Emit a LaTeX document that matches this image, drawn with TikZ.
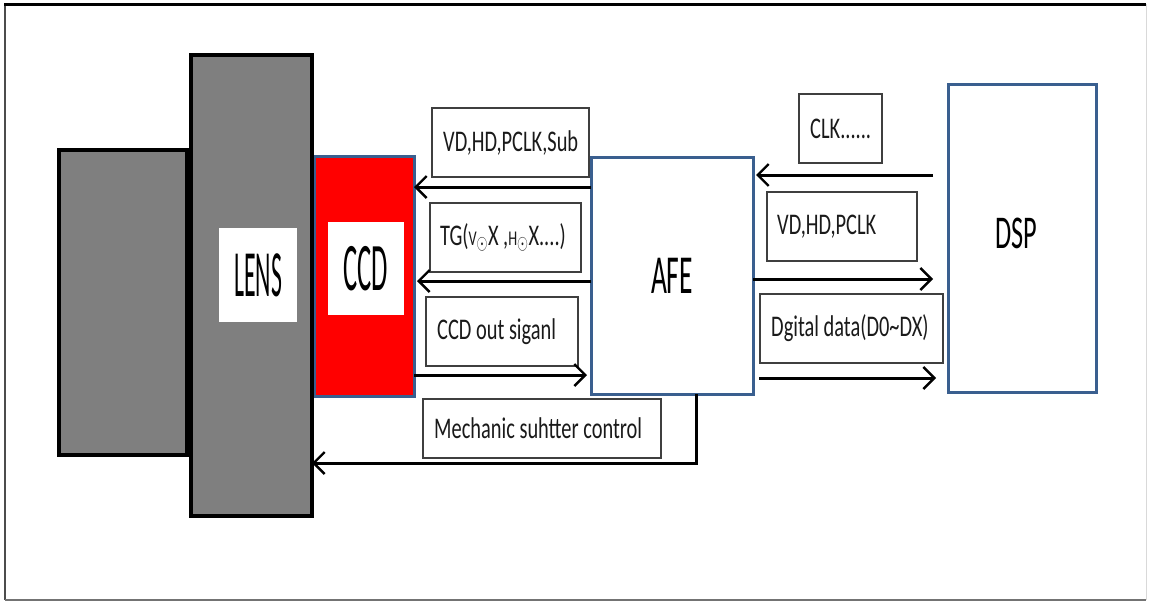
\documentclass[tikz,border=0pt]{standalone}
\usepackage{fontspec}
\usepackage{graphicx}
\setmainfont{Carlito}
\usetikzlibrary{arrows.meta}
\definecolor{housingGray}{HTML}{7F7F7F}
\definecolor{sensorRed}{HTML}{FF0000}
\definecolor{chipBlue}{HTML}{3A5F8F}
\definecolor{tagGray}{HTML}{3F3F3F}
\definecolor{textGray}{HTML}{1A1A1A}
\newcommand{\narrowtext}[3]{\scalebox{#1}[1]{\fontsize{#2}{#2}\selectfont #3}}

\begin{document}
\begin{tikzpicture}[
  x=1pt, y=-1pt,
  box/.style={rectangle, inner sep=0pt, outer sep=0pt, anchor=north west},
  housing/.style={box, draw=black, line width=4pt, fill=housingGray},
  sensor/.style={box, draw=chipBlue, line width=3pt, fill=sensorRed},
  chip/.style={box, draw=chipBlue, line width=3pt, fill=white},
  plate/.style={box, fill=white},
  tag/.style={box, draw=tagGray, line width=1.3pt, fill=white},
  tagtext/.style={anchor=west, inner sep=0pt, text=textGray},
  sig/.style={-{Straight Barb[length=11pt, width=22pt, line width=2.4pt]}, line width=3pt}
]
\useasboundingbox (0,0) rectangle (1149,603);
% frame
\draw[line width=1.6pt, draw=black!70] (5,4) -- (5,600);
\draw[line width=1.6pt, draw=black!55] (5,600) -- (1146,600);
\draw[line width=1pt, draw=black!15] (1146,4) -- (1146,600);
\draw[line width=3pt] (4,4) -- (1146,4);

% camera body, sensor and lens
\node[housing, minimum width=128pt, minimum height=305pt] (back) at (59,150) {};
\node[sensor, minimum width=100pt, minimum height=240pt] (ccd) at (314,156) {};
\node[housing, minimum width=121pt, minimum height=461pt] (lens) at (191,55) {};
\node[plate, minimum width=78pt, minimum height=94pt] (lenslabel) at (219,228)
  {\narrowtext{0.36}{66}{LENS}};
\node[plate, minimum width=76pt, minimum height=93pt] (ccdlabel) at (328,222)
  {\narrowtext{0.39}{68}{CCD}};

% processing chips
\node[chip, minimum width=162pt, minimum height=237pt] (afe) at (591,157)
  {\narrowtext{0.5}{55}{AFE}};
\node[chip, minimum width=148pt, minimum height=308pt] (dsp) at (948,84) {};
\node (dsplabel) at (1016,233) {\narrowtext{0.56}{47}{DSP}};

% signal tags
\node[tag, minimum width=157pt, minimum height=69pt] (tsync) at (432,108) {};
\node[tag, minimum width=151pt, minimum height=69pt] (ttg) at (430,203) {};
\node[tag, minimum width=152pt, minimum height=69pt] (tout) at (426,297) {};
\node[tag, minimum width=238pt, minimum height=59pt] (tmech) at (423,399) {};
\node[tag, minimum width=83pt, minimum height=69pt] (tclk) at (799,94) {};
\node[tag, minimum width=150pt, minimum height=69pt] (tdsync) at (767,192) {};
\node[tag, minimum width=183pt, minimum height=69pt] (tdata) at (760,294) {};

\node[tagtext] at ([xshift=11pt]tsync.west) {\narrowtext{0.68}{30}{VD,HD,PCLK,Sub}};
\node[tagtext] at ([xshift=10pt]ttg.west)
  {\narrowtext{0.68}{30}{TG({\fontsize{21}{21}\selectfont V}$_{\odot}$X ,{\fontsize{21}{21}\selectfont H}$_{\odot}$X....)}};
\node[tagtext] at ([xshift=11pt]tout.west) {\narrowtext{0.68}{30}{CCD out siganl}};
\node[tagtext] at ([xshift=11pt]tmech.west) {\narrowtext{0.68}{30}{Mechanic suhtter control}};
\node[tagtext] at ([xshift=11pt]tclk.west) {\narrowtext{0.68}{30}{CLK......}};
\node[tagtext] at ([xshift=10pt]tdsync.west) {\narrowtext{0.68}{30}{VD,HD,PCLK}};
\node[tagtext] at ([xshift=11pt]tdata.west) {\narrowtext{0.68}{30}{Dgital data(D0\char`~DX)}};

% signal rows
\coordinate (r1) at (0,187);
\coordinate (r2) at (0,281);
\coordinate (r3) at (0,375);
\coordinate (r4) at (0,463);
\coordinate (r5) at (0,175);
\coordinate (r6) at (0,279);
\coordinate (r7) at (0,378);

\draw[sig] (afe.west |- r1) -- (ccd.east |- r1);
\draw[sig] (afe.west |- r2) -- ([xshift=3pt]ccd.east |- r2);
\draw[sig, shorten >=4pt] (ccd.east |- r3) -- (afe.west |- r3);
\draw[sig] ([xshift=24pt]afe.south) |- (lens.east |- r4);
\draw[sig, shorten <=15pt] (dsp.west |- r5) -- ([xshift=3pt]afe.east |- r5);
\draw[sig, shorten >=15pt] (afe.east |- r6) -- (dsp.west |- r6);
\draw[sig, shorten <=6pt, shorten >=12pt] (afe.east |- r7) -- (dsp.west |- r7);
\end{tikzpicture}
\end{document}
